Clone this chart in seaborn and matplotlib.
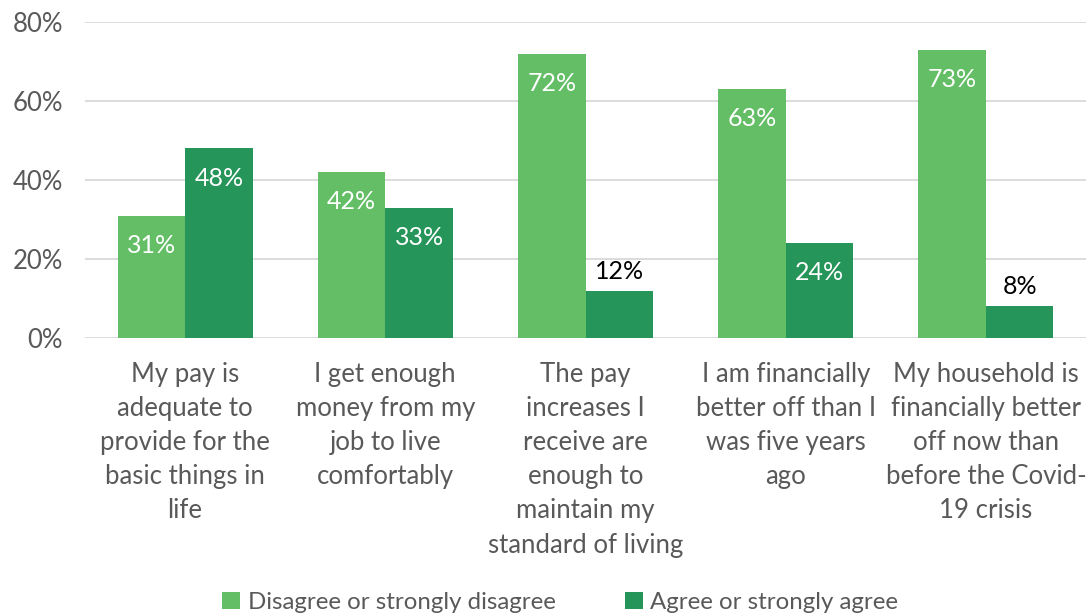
import matplotlib
matplotlib.use("Agg")
import matplotlib.pyplot as plt
import seaborn as sns
import pandas as pd
from matplotlib.patches import Patch

categories = [
    "My pay is\nadequate to\nprovide for the\nbasic things in\nlife",
    "I get enough\nmoney from my\njob to live\ncomfortably",
    "The pay\nincreases I\nreceive are\nenough to\nmaintain my\nstandard of living",
    "I am financially\nbetter off than I\nwas five years\nago",
    "My household is\nfinancially better\noff now than\nbefore the Covid-\n19 crisis",
]
series_names = ["Disagree or strongly disagree", "Agree or strongly agree"]
disagree = [31, 42, 72, 63, 73]
agree = [48, 33, 12, 24, 8]
y_ticks = [0, 20, 40, 60, 80]

colors = ["#63BE66", "#26955A"]
text_gray = "#595959"
fs = 18.5

sns.set_theme(style="white")
plt.rcParams["font.family"] = ["Lato", "DejaVu Sans"]

df = pd.DataFrame({
    "category": categories * 2,
    "series": [series_names[0]] * len(categories) + [series_names[1]] * len(categories),
    "value": disagree + agree,
})

fig = plt.figure(figsize=(10.86, 6.16), dpi=100)
ax = fig.add_axes([85 / 1086, 1 - 338 / 616, 1 - 85 / 1086, (338 - 22) / 616])

sns.barplot(data=df, x="category", y="value", hue="series", hue_order=series_names,
            palette=colors, width=0.675, gap=0, ax=ax, legend=False,
            edgecolor="none", linewidth=0, saturation=1)

ax.set_ylim(0, 80)
ax.set_yticks(y_ticks)
ax.set_yticklabels([f"{t}%" for t in y_ticks])
ax.yaxis.grid(True, color="#D9D9D9", linewidth=1.3)
ax.set_axisbelow(True)
for s in ax.spines.values():
    s.set_visible(False)
ax.set_xlabel("")
ax.set_ylabel("")
ax.tick_params(axis="y", length=0, pad=16, labelsize=fs, labelcolor=text_gray)
ax.tick_params(axis="x", length=0, pad=17, labelsize=fs, labelcolor=text_gray)
for lbl in ax.get_xticklabels():
    lbl.set_linespacing(1.46)
    lbl.set_verticalalignment("top")

# value labels: inside the bar top, or just above short bars
for container in ax.containers:
    for bar in container:
        h = bar.get_height()
        x = bar.get_x() + bar.get_width() / 2
        if h >= 20:
            ax.text(x, h - 4.6, f"{h:.0f}%", ha="center", va="top",
                    color="white", fontsize=18)
        else:
            ax.text(x, h + 2.0, f"{h:.0f}%", ha="center", va="bottom",
                    color="black", fontsize=18)

handles = [Patch(facecolor=c, edgecolor="none") for c in colors]
fig.legend(handles, series_names, loc="center", bbox_to_anchor=(0.516, 0.022),
           ncol=2, frameon=False, fontsize=17.3, labelcolor=text_gray,
           handlelength=0.75, handleheight=0.75, handletextpad=0.3, columnspacing=2.9)

fig.savefig("out.png", dpi=100)
